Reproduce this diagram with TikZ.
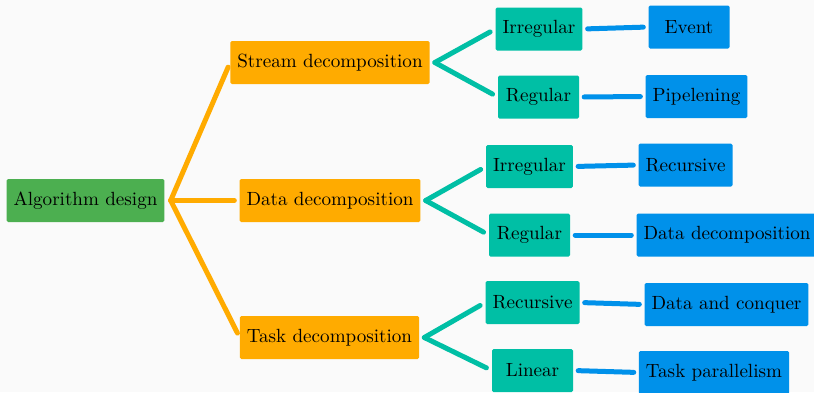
\documentclass[tikz,border=0pt]{standalone}
\definecolor{bgc}{HTML}{FAFAFA}
\definecolor{cgreen}{HTML}{4CAF50}
\definecolor{corange}{HTML}{FFAB00}
\definecolor{cteal}{HTML}{00BFA5}
\definecolor{cblue}{HTML}{0091EA}
\newcommand{\bt}[1]{\scalebox{1.91}{#1}}
\tikzset{
  box/.style={rounded corners=1.5pt, inner xsep=7pt, inner ysep=0pt, minimum height=43pt, minimum width=81pt, font=\fontsize{10}{12}\selectfont, text=black},
  rootbox/.style={box, fill=cgreen},
  lvone/.style={box, fill=corange},
  lvtwo/.style={box, fill=cteal},
  lvthree/.style={box, fill=cblue},
  conn/.style={line width=5pt, line cap=round},
  oline/.style={conn, draw=corange},
  tline/.style={conn, draw=cteal},
  bline/.style={conn, draw=cblue},
}
\begin{document}
\begin{tikzpicture}[x=1pt,y=-1pt]
\fill[bgc] (0,0) rectangle (814,392);
\useasboundingbox (0,0) rectangle (814,392);
% nodes
\node[rootbox] (root) at (85.5,200.5) {\bt{Algorithm design}};
\node[lvone] (stream) at (330,62.5) {\bt{Stream decomposition}};
\node[lvone] (data) at (330,200.5) {\bt{Data decomposition}};
\node[lvone] (task) at (329.5,337.5) {\bt{Task decomposition}};
\node[lvtwo] (sirr) at (539,29) {\bt{Irregular}};
\node[lvtwo] (sreg) at (538.5,97) {\bt{Regular}};
\node[lvtwo] (dirr) at (529.5,166.5) {\bt{Irregular}};
\node[lvtwo] (dreg) at (529.5,235) {\bt{Regular}};
\node[lvtwo] (trec) at (532.5,302.5) {\bt{Recursive}};
\node[lvtwo] (tlin) at (532.5,370.5) {\bt{Linear}};
\node[lvthree] (event) at (689,27) {\bt{Event}};
\node[lvthree] (pipe) at (696.5,96.5) {\bt{Pipelening}};
\node[lvthree] (recur) at (685.5,165) {\bt{Recursive}};
\node[lvthree] (ddec) at (727,235) {\bt{Data decomposition}};
\node[lvthree] (dnc) at (726.5,304.5) {\bt{Data and conquer}};
\node[lvthree] (tpar) at (714,372.5) {\bt{Task parallelism}};
% junctions
\coordinate (j0) at ([xshift=6pt]root.east);
\coordinate (js) at ([xshift=5pt]stream.east);
\coordinate (jd) at ([xshift=5pt]data.east);
\coordinate (jt) at ([xshift=5pt]task.east);
% connectors
\draw[oline, shorten >=5pt] (j0) -- (stream.west);
\draw[oline, shorten >=5pt] (j0) -- (data.west);
\draw[oline, shorten >=5pt] (j0) -- (task.west);
\draw[tline, shorten >=6pt] (js) -- (sirr.west);
\draw[tline, shorten >=6pt] (js) -- (sreg.west);
\draw[tline, shorten >=6pt] (jd) -- (dirr.west);
\draw[tline, shorten >=6pt] (jd) -- (dreg.west);
\draw[tline, shorten >=6pt] (jt) -- (trec.west);
\draw[tline, shorten >=6pt] (jt) -- (tlin.west);
\draw[bline, shorten <=5pt, shorten >=5pt] (sirr.east) -- (event.west);
\draw[bline, shorten <=5pt, shorten >=5pt] (sreg.east) -- (pipe.west);
\draw[bline, shorten <=5pt, shorten >=5pt] (dirr.east) -- (recur.west);
\draw[bline, shorten <=5pt, shorten >=5pt] (dreg.east) -- (ddec.west);
\draw[bline, shorten <=5pt, shorten >=5pt] (trec.east) -- (dnc.west);
\draw[bline, shorten <=5pt, shorten >=5pt] (tlin.east) -- (tpar.west);
\end{tikzpicture}
\end{document}
